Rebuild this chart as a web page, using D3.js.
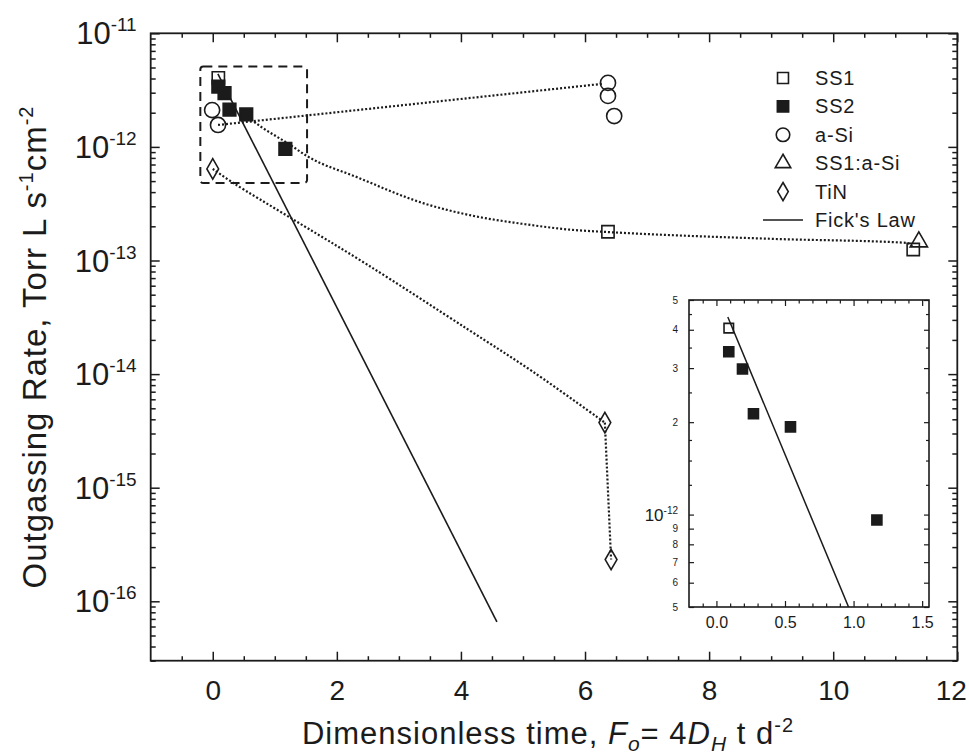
<!DOCTYPE html>
<html>
<head>
<meta charset="utf-8">
<script src="https://cdn.jsdelivr.net/npm/d3@7"></script>
<style>
  body { margin: 0; background: #fff; }
  svg text { font-family: Arial, "Liberation Sans", sans-serif; fill: #1b1b1b; white-space: pre; }
</style>
</head>
<body>
<svg id="chart" width="969" height="754"></svg>
<script>
// values: [Fo, outgassing rate]
const ss1 = [[0.09, 4.05e-12], [6.37, 1.79e-13], [11.29, 1.25e-13]];
const ss2 = [[0.09, 3.39e-12], [0.19, 2.98e-12], [0.27, 2.13e-12], [0.54, 1.93e-12], [1.17, 9.6e-13]];
const aSi = [[-0.01, 2.11e-12], [0.085, 1.56e-12], [6.37, 3.66e-12], [6.37, 2.81e-12], [6.47, 1.87e-12]];
const ss1aSi = [[11.38, 1.46e-13]];
const tin = [[0.0, 6.4e-13], [6.32, 3.74e-15], [6.42, 2.33e-16]];

// Fick's law line and the dotted guide curves
const ficks = [[0.083, 4.4e-12], [4.58, 6.6e-17]];
const aSiFit = [[0.085, 1.56e-12], [6.3, 3.6e-12]];
const ss1Fit = [[0.52, 1.95e-12], [0.63, 1.73e-12], [1.25, 1.04e-12], [1.52, 8.3e-13], [2.33, 5.4e-13],
  [3.39, 3.2e-13], [4.2, 2.47e-13], [5.0, 2.1e-13], [5.8, 1.86e-13], [6.37, 1.78e-13],
  [9.03, 1.55e-13], [11.19, 1.43e-13], [11.29, 1.3e-13]];
const tinFit = [[0.0, 6.4e-13], [0.33, 4.82e-13], [1.25, 2.38e-13], [2.49, 9.2e-14], [4.1, 2.5e-14],
  [5.16, 1.05e-14], [6.32, 3.74e-15]];
const tinDrop = [[6.32, 3.74e-15], [6.42, 2.33e-16]];

// region magnified in the inset
const zoomBox = [[-0.2, 5.1e-12], [1.52, 4.8e-13]];

const xTicks = [0, 2, 4, 6, 8, 10, 12];
const xMinor = [-0.5, 0.5, 1, 1.5, 2.5, 3, 3.5, 4.5, 5, 5.5, 6.5, 7, 7.5, 8.5, 9, 9.5, 10.5, 11, 11.5];
const yTicks = [1e-16, 1e-15, 1e-14, 1e-13, 1e-12, 1e-11];
const yExp = ["-16", "-15", "-14", "-13", "-12", "-11"];
const insetXTicks = [0, 0.5, 1, 1.5];
const insetXMinor = [-0.1, 0.1, 0.2, 0.3, 0.4, 0.6, 0.7, 0.8, 0.9, 1.1, 1.2, 1.3, 1.4];
const insetYTicks = [5e-13, 6e-13, 7e-13, 8e-13, 9e-13, 1e-12, 2e-12, 3e-12, 4e-12, 5e-12];
const insetYMinor = [1.25e-12, 1.5e-12, 1.75e-12, 2.5e-12, 3.5e-12, 4.5e-12];
const legendLabels = ["SS1", "SS2", "a-Si", "SS1:a-Si", "TiN", "Fick's Law"];

const ink = "#1b1b1b";
const svg = d3.select("#chart");

const x = d3.scaleLinear().domain([-1, 12]).range([150.7, 957.3]);
const y = d3.scaleLog().domain([3e-17, 1e-11]).range([660.7, 33.3]);

// minor ticks for log axis
let yMinor = [];
for (let e = -17; e <= -12; e++) {
  for (let k = 2; k <= 9; k++) {
    const v = k * Math.pow(10, e);
    if (v >= 3e-17 && v <= 1e-11) yMinor.push(v);
  }
}

function styleAxis(a) {
  a.select(".domain").remove();
  a.selectAll("line").attr("stroke", ink).attr("stroke-width", 1.5);
  return a;
}

function drawMarker(sel, type, size) {
  const symbols = {
    sqOpen: d3.symbolSquare, sqFill: d3.symbolSquare, circle: d3.symbolCircle,
    tri: d3.symbolTriangle, diamond: d3.symbolDiamond
  };
  sel.attr("d", d3.symbol().type(symbols[type]).size(size))
    .attr("fill", type == "sqFill" ? ink : "none")
    .attr("stroke", ink)
    .attr("stroke-width", 1.6);
}

const mSize = { sqOpen: 150, sqFill: 160, circle: 180, tri: 130, diamond: 120 };

// ---- main plot ----
const main = svg.append("g");

main.append("rect")
  .attr("x", x(-1)).attr("y", y(1e-11))
  .attr("width", x(12) - x(-1)).attr("height", y(3e-17) - y(1e-11))
  .attr("fill", "none").attr("stroke", ink).attr("stroke-width", 1.8);

const xAx = styleAxis(main.append("g").attr("transform", `translate(0,${y(3e-17)})`)
  .call(d3.axisBottom(x).tickValues(xTicks).tickSize(-9).tickPadding(19).tickFormat(d3.format("d"))));
xAx.selectAll("text").attr("font-size", 28).attr("fill", ink).attr("font-family", null);
// last label sits against the right edge of the picture
xAx.selectAll("text").filter(d => d == 12).attr("text-anchor", "end").attr("dx", 9);
styleAxis(main.append("g").attr("transform", `translate(0,${y(3e-17)})`)
  .call(d3.axisBottom(x).tickValues(xMinor).tickSize(-4.5).tickFormat("")));
styleAxis(main.append("g").attr("transform", `translate(0,${y(1e-11)})`)
  .call(d3.axisTop(x).tickValues(xTicks).tickSize(-9).tickFormat("")));
styleAxis(main.append("g").attr("transform", `translate(0,${y(1e-11)})`)
  .call(d3.axisTop(x).tickValues(xMinor).tickSize(-4.5).tickFormat("")));

styleAxis(main.append("g").attr("transform", `translate(${x(-1)},0)`)
  .call(d3.axisLeft(y).tickValues(yTicks).tickSize(-9).tickFormat("")));
styleAxis(main.append("g").attr("transform", `translate(${x(-1)},0)`)
  .call(d3.axisLeft(y).tickValues(yMinor).tickSize(-5).tickFormat("")));
styleAxis(main.append("g").attr("transform", `translate(${x(12)},0)`)
  .call(d3.axisRight(y).tickValues(yTicks).tickSize(-9).tickFormat("")));
styleAxis(main.append("g").attr("transform", `translate(${x(12)},0)`)
  .call(d3.axisRight(y).tickValues(yMinor).tickSize(-5).tickFormat("")));

// y tick labels 10^n
yTicks.forEach((v, i) => {
  const t = main.append("text")
    .attr("x", x(-1) - 14).attr("y", y(v) + 11)
    .attr("text-anchor", "end").attr("font-size", 31);
  t.append("tspan").text("10");
  t.append("tspan").attr("dy", -13).attr("font-size", 19).text(yExp[i]);
});

// axis titles
const yTitle = main.append("text")
  .attr("transform", `translate(46,${(y(1e-11) + y(3e-17)) / 2}) rotate(-90)`)
  .attr("text-anchor", "middle").attr("font-size", 33).attr("letter-spacing", 1);
yTitle.append("tspan").text("Outgassing Rate, Torr L s");
yTitle.append("tspan").attr("dy", -13).attr("font-size", 20).text("-1");
yTitle.append("tspan").attr("dy", 13).text("cm");
yTitle.append("tspan").attr("dy", -13).attr("font-size", 20).text("-2");

const xTitle = main.append("text")
  .attr("x", 548).attr("y", 744)
  .attr("text-anchor", "middle").attr("font-size", 31).attr("letter-spacing", 1);
xTitle.append("tspan").text("Dimensionless time, ");
xTitle.append("tspan").attr("font-style", "italic").text("F");
xTitle.append("tspan").attr("font-style", "italic").attr("font-size", 21).attr("dy", 7).text("o");
xTitle.append("tspan").attr("dy", -7).text("= 4");
xTitle.append("tspan").attr("font-style", "italic").text("D");
xTitle.append("tspan").attr("font-style", "italic").attr("font-size", 21).attr("dy", 7).text("H");
xTitle.append("tspan").attr("dy", -7).text(" t d");
xTitle.append("tspan").attr("dy", -12).attr("font-size", 20).text("-2");

// dotted guides
const logLine = d3.line().x(d => x(d[0])).y(d => y(d[1]));
const dotted = { stroke: ink, "stroke-width": 2.2, "stroke-dasharray": "2 2", fill: "none" };
function addPath(g, data, gen, st) {
  const p = g.append("path").datum(data).attr("d", gen);
  Object.entries(st).forEach(([k, v]) => p.attr(k, v));
  return p;
}
addPath(main, aSiFit, logLine, dotted);
addPath(main, ss1Fit, logLine.curve(d3.curveMonotoneX), dotted);
addPath(main, tinFit, d3.line().x(d => x(d[0])).y(d => y(d[1])).curve(d3.curveCatmullRom.alpha(0.5)), dotted);
addPath(main, tinDrop, d3.line().x(d => x(d[0])).y(d => y(d[1])), dotted);

// Fick's law
addPath(main, ficks, d3.line().x(d => x(d[0])).y(d => y(d[1])),
  { stroke: ink, "stroke-width": 1.6, fill: "none" });

// zoom box
main.append("rect")
  .attr("x", x(zoomBox[0][0])).attr("y", y(zoomBox[0][1]))
  .attr("width", x(zoomBox[1][0]) - x(zoomBox[0][0]))
  .attr("height", y(zoomBox[1][1]) - y(zoomBox[0][1]))
  .attr("rx", 3)
  .attr("fill", "none").attr("stroke", ink).attr("stroke-width", 2)
  .attr("stroke-dasharray", "9 6");

// markers
function plotSeries(g, data, type, sx, sy, size) {
  g.append("g").selectAll("path").data(data).join("path")
    .attr("transform", d => `translate(${sx(d[0])},${sy(d[1])})`)
    .call(drawMarker, type, size);
}
plotSeries(main, tin, "diamond", x, y, mSize.diamond);
plotSeries(main, aSi, "circle", x, y, mSize.circle);
plotSeries(main, ss1aSi, "tri", x, y, mSize.tri);
plotSeries(main, ss1, "sqOpen", x, y, mSize.sqOpen);
plotSeries(main, ss2, "sqFill", x, y, mSize.sqFill);

// legend
const legTypes = ["sqOpen", "sqFill", "circle", "tri", "diamond"];
const leg = main.append("g").attr("transform", "translate(783,78)");
legendLabels.forEach((name, i) => {
  const row = leg.append("g").attr("transform", `translate(0,${i * 28.4})`);
  if (i < legTypes.length) {
    row.append("path").call(drawMarker, legTypes[i], mSize[legTypes[i]] * 0.8);
  } else {
    row.append("line").attr("x1", -20).attr("x2", 20)
      .attr("stroke", ink).attr("stroke-width", 1.6);
  }
  row.append("text").attr("x", 32).attr("y", 7).attr("font-size", 20)
    .attr("letter-spacing", 0.8).text(name);
});

// ---- inset ----
const ix = d3.scaleLinear().domain([-0.2, 1.55]).range([689, 929]);
const iy = d3.scaleLog().domain([5e-13, 5e-12]).range([607, 300]);
const inset = svg.append("g");

inset.append("rect")
  .attr("x", ix(-0.2)).attr("y", iy(5e-12))
  .attr("width", ix(1.55) - ix(-0.2)).attr("height", iy(5e-13) - iy(5e-12))
  .attr("fill", "#fff").attr("stroke", ink).attr("stroke-width", 1.6);

const ixAx = styleAxis(inset.append("g").attr("transform", `translate(0,${iy(5e-13)})`)
  .call(d3.axisBottom(ix).tickValues(insetXTicks).tickSize(-6).tickPadding(10).tickFormat(d3.format(".1f"))));
ixAx.selectAll("text").attr("font-size", 16).attr("fill", ink).attr("font-family", null);
styleAxis(inset.append("g").attr("transform", `translate(0,${iy(5e-13)})`)
  .call(d3.axisBottom(ix).tickValues(insetXMinor).tickSize(-3.5).tickFormat("")));
styleAxis(inset.append("g").attr("transform", `translate(0,${iy(5e-12)})`)
  .call(d3.axisTop(ix).tickValues(insetXTicks).tickSize(-6).tickFormat("")));
styleAxis(inset.append("g").attr("transform", `translate(0,${iy(5e-12)})`)
  .call(d3.axisTop(ix).tickValues(insetXMinor).tickSize(-3.5).tickFormat("")));

[[ix(-0.2), d3.axisLeft], [ix(1.55), d3.axisRight]].forEach(([px, axisFn]) => {
  styleAxis(inset.append("g").attr("transform", `translate(${px},0)`)
    .call(axisFn(iy).tickValues(insetYTicks).tickSize(-5).tickFormat("")));
  styleAxis(inset.append("g").attr("transform", `translate(${px},0)`)
    .call(axisFn(iy).tickValues(insetYMinor).tickSize(-3).tickFormat("")));
});
inset.selectAll("line").attr("stroke-width", 1.2);

insetYTicks.forEach(v => {
  const e = Math.floor(Math.log10(v) + 1e-9);
  const m = Math.round(v / Math.pow(10, e));
  if (m == 1) {
    const t = inset.append("text").attr("x", ix(-0.2) - 11).attr("y", iy(v) + 6)
      .attr("text-anchor", "end").attr("font-size", 17);
    t.append("tspan").text("10");
    t.append("tspan").attr("dy", -7).attr("font-size", 10).text(String(e));
  } else {
    inset.append("text").attr("x", ix(-0.2) - 11).attr("y", iy(v) + 3.5)
      .attr("text-anchor", "end").attr("font-size", 10).text(m);
  }
});

inset.append("clipPath").attr("id", "insetClip").append("rect")
  .attr("x", ix(-0.2)).attr("y", iy(5e-12))
  .attr("width", ix(1.55) - ix(-0.2)).attr("height", iy(5e-13) - iy(5e-12));

const insetPlot = inset.append("g").attr("clip-path", "url(#insetClip)");
addPath(insetPlot, ficks, d3.line().x(d => ix(d[0])).y(d => iy(d[1])),
  { stroke: ink, "stroke-width": 1.5, fill: "none" });
const inRange = d => d[0] >= -0.2 && d[0] <= 1.55 && d[1] >= 5e-13 && d[1] <= 5e-12;
plotSeries(insetPlot, ss1.filter(inRange), "sqOpen", ix, iy, 90);
plotSeries(insetPlot, ss2.filter(inRange), "sqFill", ix, iy, 100);
</script>
</body>
</html>
